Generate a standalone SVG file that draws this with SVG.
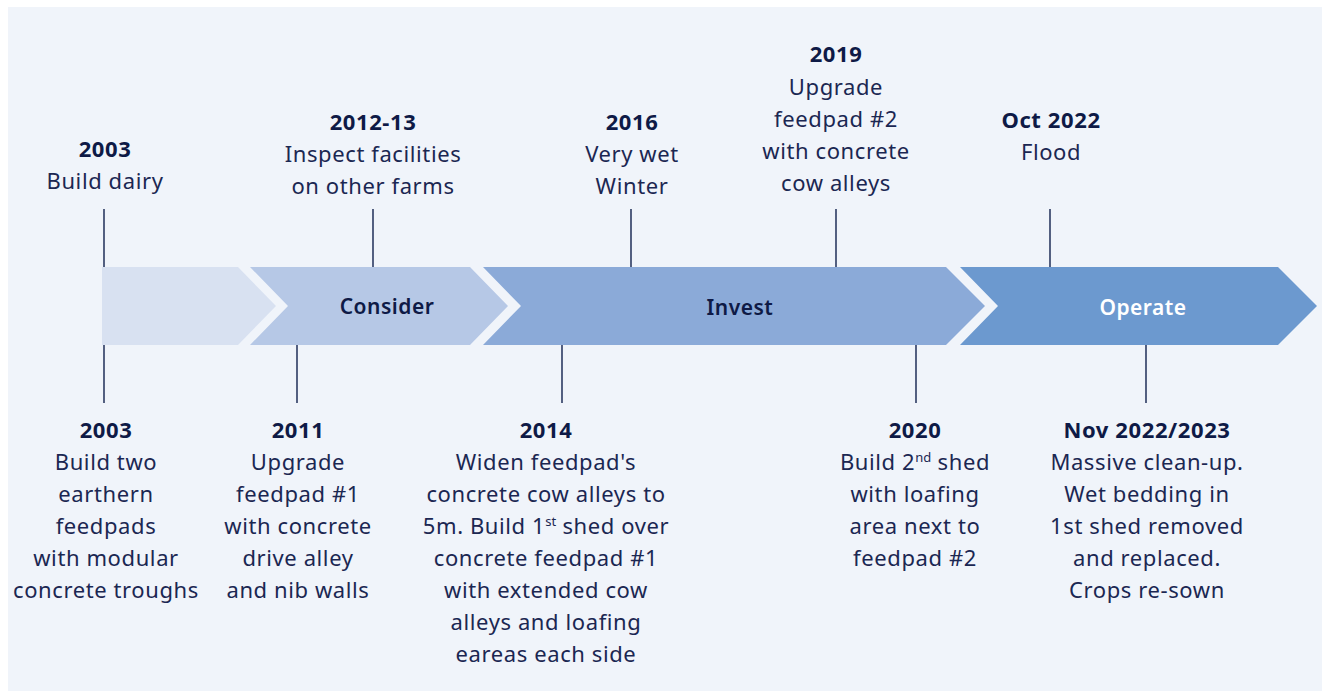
<svg xmlns="http://www.w3.org/2000/svg" width="1322" height="691" viewBox="0 0 1322 691">
<style>
.t{font-family:"Noto Sans","Liberation Sans",sans-serif;font-size:22px;letter-spacing:0.6px;fill:#1b2752;text-anchor:middle}
.b{font-weight:bold;fill:#0e1a46}
.s{font-family:"Noto Sans","Liberation Sans",sans-serif;font-size:21px;font-weight:600;letter-spacing:0.5px;text-anchor:middle;fill:#0e1a46}
.tick{stroke:#2c3a62;stroke-width:1.6}
.sup{font-size:13px;letter-spacing:0}
</style>
<rect x="0" y="0" width="1322" height="691" fill="#ffffff"/>
<rect x="8" y="7" width="1314" height="684" fill="#f0f4fa"/>
<g id="stages">
<g id="stage-0"><polygon points="102,267 238,267 276,306 238,345 102,345" fill="#d8e1f1"/></g>
<g id="stage-consider"><polygon points="250,267 470,267 508,306 470,345 250,345 288,306" fill="#b6c8e6"/><text class="s" x="387" y="314">Consider</text></g>
<g id="stage-invest"><polygon points="483,267 946,267 985,306 946,345 483,345 521,306" fill="#8baad8"/><text class="s" x="740" y="315">Invest</text></g>
<g id="stage-operate"><polygon points="960,267 1278,267 1317,306 1278,345 960,345 998,306" fill="#6c99cf"/><text class="s" x="1143" y="315" style="fill:#ffffff">Operate</text></g>
</g>
<g id="connectors">
<line class="tick" x1="104" y1="209" x2="104" y2="267"/>
<line class="tick" x1="373" y1="209" x2="373" y2="267"/>
<line class="tick" x1="631" y1="209" x2="631" y2="267"/>
<line class="tick" x1="836" y1="209" x2="836" y2="267"/>
<line class="tick" x1="1050" y1="209" x2="1050" y2="267"/>
<line class="tick" x1="104" y1="345" x2="104" y2="403"/>
<line class="tick" x1="297" y1="345" x2="297" y2="403"/>
<line class="tick" x1="562" y1="345" x2="562" y2="403"/>
<line class="tick" x1="916" y1="345" x2="916" y2="403"/>
<line class="tick" x1="1146" y1="345" x2="1146" y2="403"/>
</g>
<g id="e2003a"><text class="t b" x="105" y="157">2003</text><text class="t" x="105" y="189">Build dairy</text></g>
<g id="e2012"><text class="t b" x="373" y="130">2012-13</text><text class="t" x="373" y="162">Inspect facilities</text><text class="t" x="373" y="194">on other farms</text></g>
<g id="e2016"><text class="t b" x="632" y="130">2016</text><text class="t" x="632" y="162">Very wet</text><text class="t" x="632" y="194">Winter</text></g>
<g id="e2019"><text class="t b" x="836" y="62">2019</text><text class="t" x="836" y="95">Upgrade</text><text class="t" x="836" y="127">feedpad #2</text><text class="t" x="836" y="159">with concrete</text><text class="t" x="836" y="191">cow alleys</text></g>
<g id="e2022"><text class="t b" x="1051" y="128">Oct 2022</text><text class="t" x="1051" y="160">Flood</text></g>
<g id="e2003b"><text class="t b" x="106" y="438">2003</text><text class="t" x="106" y="470">Build two</text><text class="t" x="106" y="502">earthern</text><text class="t" x="106" y="534">feedpads</text><text class="t" x="106" y="566">with modular</text><text class="t" x="106" y="598">concrete troughs</text></g>
<g id="e2011"><text class="t b" x="298" y="438">2011</text><text class="t" x="298" y="470">Upgrade</text><text class="t" x="298" y="502">feedpad #1</text><text class="t" x="298" y="534">with concrete</text><text class="t" x="298" y="566">drive alley</text><text class="t" x="298" y="598">and nib walls</text></g>
<g id="e2014"><text class="t b" x="546" y="438">2014</text><text class="t" x="546" y="470">Widen feedpad's</text><text class="t" x="546" y="502">concrete cow alleys to</text><text class="t" x="546" y="534">5m. Build 1<tspan class="sup" dy="-8">st</tspan><tspan dy="8"> shed over</tspan></text><text class="t" x="546" y="566">concrete feedpad #1</text><text class="t" x="546" y="598">with extended cow</text><text class="t" x="546" y="630">alleys and loafing</text><text class="t" x="546" y="662">eareas each side</text></g>
<g id="e2020"><text class="t b" x="915" y="438">2020</text><text class="t" x="915" y="470">Build 2<tspan class="sup" dy="-8">nd</tspan><tspan dy="8"> shed</tspan></text><text class="t" x="915" y="502">with loafing</text><text class="t" x="915" y="534">area next to</text><text class="t" x="915" y="566">feedpad #2</text></g>
<g id="e2023"><text class="t b" x="1147" y="438">Nov 2022/2023</text><text class="t" x="1147" y="470">Massive clean-up.</text><text class="t" x="1147" y="502">Wet bedding in</text><text class="t" x="1147" y="534">1st shed removed</text><text class="t" x="1147" y="566">and replaced.</text><text class="t" x="1147" y="598">Crops re-sown</text></g>
</svg>
